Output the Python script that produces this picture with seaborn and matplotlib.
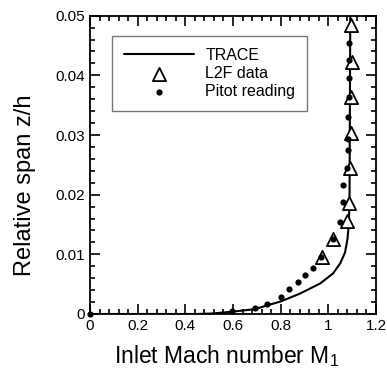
import matplotlib
matplotlib.use("Agg")
import matplotlib.pyplot as plt
import seaborn as sns
import pandas as pd
from matplotlib.ticker import MultipleLocator

sns.set_style("ticks")
plt.rcParams['font.family'] = ['Liberation Sans', 'DejaVu Sans']
plt.rcParams['mathtext.default'] = 'regular'
plt.rcParams['text.color'] = 'black'
plt.rcParams['axes.labelcolor'] = 'black'

# TRACE simulation
trace_m = [0.0, 0.30, 0.45, 0.52, 0.60, 0.69, 0.74, 0.80, 0.88, 0.965, 1.02, 1.05, 1.07, 1.08, 1.086, 1.089, 1.090, 1.092]
trace_z = [0.0, 0.0, 0.0, 0.0001, 0.0004, 0.0008, 0.0014, 0.0021, 0.0034, 0.0051, 0.0068, 0.0085, 0.0103, 0.0125, 0.0150, 0.0200, 0.0300, 0.0500]

# L2F data
l2f_m = [0.972, 1.021, 1.077, 1.088, 1.091, 1.093, 1.097, 1.098, 1.095]
l2f_z = [0.0095, 0.0126, 0.0156, 0.0186, 0.0245, 0.0303, 0.0363, 0.0423, 0.0484]

# Pitot reading
pitot_m = [0.0, 0.597, 0.692, 0.741, 0.800, 0.835, 0.874, 0.904, 0.934, 0.970, 1.020,
           1.049, 1.060, 1.060, 1.080, 1.081, 1.083, 1.084, 1.087, 1.088, 1.088, 1.088]
pitot_z = [0.0, 0.00055, 0.00106, 0.00168, 0.0029, 0.0042, 0.0054, 0.00654, 0.00766, 0.0095, 0.0126,
           0.0155, 0.0187, 0.0216, 0.0245, 0.0275, 0.0294, 0.0331, 0.0363, 0.0395, 0.0425, 0.0454]

x_ticks = [0, 0.2, 0.4, 0.6, 0.8, 1.0, 1.2]
x_tick_labels = ["0", "0.2", "0.4", "0.6", "0.8", "1", "1.2"]
y_ticks = [0, 0.01, 0.02, 0.03, 0.04, 0.05]
y_tick_labels = ["0", "0.01", "0.02", "0.03", "0.04", "0.05"]

trace = pd.DataFrame({"m": trace_m, "z": trace_z})
l2f = pd.DataFrame({"m": l2f_m, "z": l2f_z})
pitot = pd.DataFrame({"m": pitot_m, "z": pitot_z})

fig = plt.figure(figsize=(3.87, 3.70), dpi=100)
ax = fig.add_axes([0.2326, 0.1514, 0.7390, 0.8062])

sns.lineplot(data=trace, x="m", y="z", ax=ax, color="black", lw=1.5, sort=False,
             estimator=None, label="TRACE", zorder=3)
sns.scatterplot(data=l2f, x="m", y="z", ax=ax, marker="^", s=90, facecolor="white",
                edgecolor="black", linewidth=1.3, label="L2F data", zorder=4)
sns.scatterplot(data=pitot, x="m", y="z", ax=ax, marker="o", s=20, color="black",
                edgecolor="black", linewidth=0, label="Pitot reading", zorder=5, clip_on=False)

ax.set_xlim(0, 1.2)
ax.set_ylim(0, 0.05)
ax.set_xticks(x_ticks)
ax.set_xticklabels(x_tick_labels)
ax.set_yticks(y_ticks)
ax.set_yticklabels(y_tick_labels)
ax.xaxis.set_minor_locator(MultipleLocator(0.04))
ax.yaxis.set_minor_locator(MultipleLocator(0.002))
ax.tick_params(which="both", direction="in", top=True, right=True, labelsize=11,
               width=1.2, colors="black")
ax.tick_params(which="major", length=7, pad=3.5)
ax.tick_params(which="minor", length=3.5)
for s in ax.spines.values():
    s.set_linewidth(1.3)
    s.set_color("black")

ax.set_xlabel("Inlet Mach number M$_1$", fontsize=16.5)
ax.set_ylabel("Relative span z/h", fontsize=17)
ax.xaxis.set_label_coords(0.476, -0.098)
ax.yaxis.set_label_coords(-0.19, 0.43)

leg = ax.legend(loc="upper left", bbox_to_anchor=(0.077, 0.932), borderaxespad=0,
                fontsize=11.5, handlelength=4.4, frameon=True, fancybox=False,
                edgecolor="#777777", framealpha=1, borderpad=0.75, labelspacing=0.2,
                handletextpad=0.7)
leg.get_frame().set_linewidth(1.0)

fig.savefig("out.png", dpi=100)
